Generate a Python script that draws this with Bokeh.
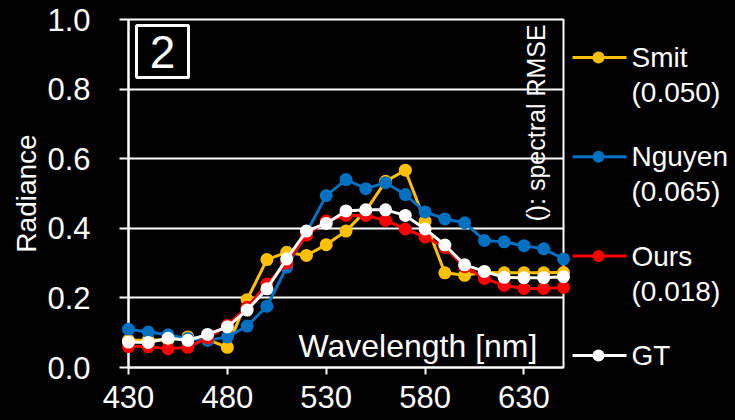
import math
from bokeh.plotting import figure
from bokeh.layouts import row
from bokeh.models import Range1d, FixedTicker, ColumnDataSource, PrintfTickFormatter
from bokeh.core.properties import value
from bokeh.embed import file_html
from bokeh.resources import INLINE

try:
    from bokeh.models import GlobalInlineStyleSheet
except ImportError:
    GlobalInlineStyleSheet = None

# ---------------- data ----------------
wavelength = list(range(430, 651, 10))
smit = [0.078, 0.078, 0.080, 0.088, 0.080, 0.058, 0.195, 0.310, 0.331, 0.322, 0.353, 0.392,
        0.450, 0.535, 0.567, 0.420, 0.272, 0.265, 0.273, 0.272, 0.272, 0.272, 0.273]
nguyen = [0.110, 0.102, 0.094, 0.083, 0.078, 0.088, 0.119, 0.176, 0.288, 0.388, 0.494, 0.540,
          0.514, 0.531, 0.497, 0.447, 0.427, 0.416, 0.365, 0.361, 0.350, 0.341, 0.312]
ours = [0.060, 0.060, 0.054, 0.058, 0.085, 0.121, 0.173, 0.240, 0.300, 0.380, 0.421, 0.437,
        0.437, 0.423, 0.398, 0.375, 0.345, 0.290, 0.256, 0.236, 0.227, 0.227, 0.230]
gt = [0.073, 0.072, 0.084, 0.078, 0.095, 0.117, 0.165, 0.226, 0.312, 0.392, 0.414, 0.450,
      0.453, 0.453, 0.437, 0.398, 0.352, 0.295, 0.276, 0.259, 0.258, 0.258, 0.261]

series_names = ["Smit", "Nguyen", "Ours", "GT"]
series_rmse = ["(0.050)", "(0.065)", "(0.018)", ""]
series_colors = ["#FFC000", "#0070C0", "#FF0000", "#FFFFFF"]
series_values = [smit, nguyen, ours, gt]

x_ticks = [430, 480, 530, 580, 630]
y_ticks = [0.0, 0.2, 0.4, 0.6, 0.8, 1.0]
x_min, x_max = 430, 650
y_min, y_max = 0.0, 1.0
panel_number = "2"
x_title = "Wavelength [nm]"
y_title = "Radiance"
rmse_note = "(): spectral RMSE"

FONT = "Liberation Sans"
WHITE = "white"
TOP, BOTTOM = 19, 53   # borders shared by both panels of the row

# ---------------- main plot ----------------
p = figure(width=570, height=420,
           x_range=Range1d(x_min, x_max), y_range=Range1d(y_min, y_max),
           output_backend="svg", toolbar_location=None,
           min_border_left=128, min_border_right=7, min_border_top=TOP,
           min_border_bottom=BOTTOM,
           background_fill_color="black", border_fill_color="black",
           outline_line_color=WHITE, outline_line_width=2)
p.xgrid.visible = False
p.ygrid.ticker = FixedTicker(ticks=y_ticks)
p.ygrid.grid_line_color = WHITE
p.ygrid.grid_line_width = 2

xa = p.xaxis[0]
xa.ticker = FixedTicker(ticks=x_ticks)
xa.axis_line_color = WHITE
xa.axis_line_width = 2
xa.major_tick_line_color = WHITE
xa.major_tick_line_width = 2
xa.major_tick_out = 7
xa.major_tick_in = 0
xa.minor_tick_line_color = None
xa.major_label_text_color = WHITE
xa.major_label_text_font = FONT
xa.major_label_text_font_size = "31px"
xa.major_label_standoff = 11

ya = p.yaxis[0]
ya.ticker = FixedTicker(ticks=y_ticks)
ya.formatter = PrintfTickFormatter(format="%.1f")
ya.axis_line_color = WHITE
ya.axis_line_width = 2
ya.major_tick_line_color = WHITE
ya.major_tick_line_width = 2
ya.major_tick_out = 9
ya.major_tick_in = 0
ya.minor_tick_line_color = None
ya.major_label_text_color = WHITE
ya.major_label_text_font = FONT
ya.major_label_text_font_size = "31px"
ya.major_label_standoff = 29
ya.axis_label = y_title
ya.axis_label_text_color = WHITE
ya.axis_label_text_font = FONT
ya.axis_label_text_font_size = "28px"
ya.axis_label_text_font_style = "normal"
ya.axis_label_standoff = 2

# series (drawn at overlay level so edge markers are not cut by the frame)
for name, vals, col in zip(series_names, series_values, series_colors):
    src = ColumnDataSource(dict(x=wavelength, y=vals))
    p.line("x", "y", source=src, line_color=col, line_width=3, level="overlay")
    p.scatter("x", "y", source=src, size=13, fill_color=col, line_color=col, line_width=0,
              level="overlay")

# panel number box
p.rect(x=[447.2], y=[0.908], width=52, height=52, width_units="screen", height_units="screen",
       fill_color=None, line_color=WHITE, line_width=3)
p.text(x=[447.2], y=[0.908], text=[panel_number], text_align="center", text_baseline="middle",
       text_color=WHITE, text_font=value(FONT), text_font_size="46px")

# in-plot texts
p.text(x=[636.8], y=[0.063], text=[x_title], text_align="right", text_baseline="middle",
       text_color=WHITE, text_font=value(FONT), text_font_size="32px")
p.text(x=[636.3], y=[0.7026], text=[rmse_note], text_align="center", text_baseline="middle",
       angle=math.pi / 2, text_color=WHITE, text_font=value(FONT), text_font_size="25px")

# ---------------- legend ----------------
# the row aligns the frames, so the legend frame spans page rows TOP .. 420-BOTTOM;
# its y range is set so that data y equals the page row.
lg = figure(width=165, height=420, x_range=Range1d(0, 165),
            y_range=Range1d(420 - BOTTOM, TOP),
            output_backend="svg", toolbar_location=None,
            x_axis_location=None, y_axis_location=None,
            min_border_left=0, min_border_right=0, min_border_top=TOP,
            min_border_bottom=BOTTOM,
            background_fill_color="black", border_fill_color="black", outline_line_color=None)
lg.grid.visible = False

row_y = [57 + i * 99.3 for i in range(len(series_names))]
leg_src = ColumnDataSource(dict(
    y=row_y, y2=[v + 35 for v in row_y], color=series_colors,
    name=series_names, rmse=series_rmse,
    x0=[2] * 4, x1=[56] * 4, xm=[28] * 4, xt=[61] * 4))
lg.segment(x0="x0", y0="y", x1="x1", y1="y", source=leg_src, line_color="color", line_width=3)
lg.scatter(x="xm", y="y", source=leg_src, size=12, fill_color="color", line_color="color",
           line_width=0)
lg.text(x="xt", y="y", text="name", source=leg_src, text_color=WHITE, text_font=value(FONT),
        text_font_size="28px", text_baseline="middle", text_align="left")
lg.text(x="xt", y="y2", text="rmse", source=leg_src, text_color=WHITE, text_font=value(FONT),
        text_font_size="28px", text_baseline="middle", text_align="left")

kw = {}
if GlobalInlineStyleSheet is not None:
    kw["stylesheets"] = [GlobalInlineStyleSheet(css="html, body { background: #000000; }")]
layout = row(p, lg, **kw)

open("out.html", "w").write(file_html(layout, INLINE))
